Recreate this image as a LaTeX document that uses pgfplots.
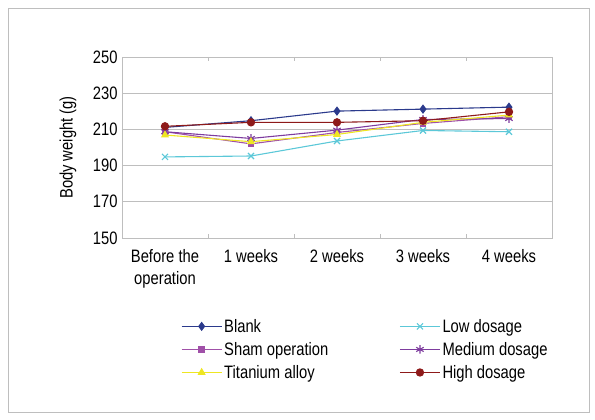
\documentclass[border=0pt]{standalone}
\usepackage{pgfplots}
\pgfplotsset{compat=1.18}
\usepackage{fontspec}
\setmainfont{Liberation Sans}[FakeStretch=0.82]

\definecolor{cblank}{HTML}{2B3A8C}
\definecolor{csham}{HTML}{A050A8}
\definecolor{ctitan}{HTML}{EEE622}
\definecolor{clow}{HTML}{5CC8D8}
\definecolor{cmed}{HTML}{7E3C9E}
\definecolor{chigh}{HTML}{8E1A1A}
\definecolor{cgrid}{HTML}{BEBEBE}

\begin{document}
\begin{tikzpicture}
  \path (0pt,0pt) rectangle (595pt,420pt);
  \draw[cgrid, line width=0.8pt] (8pt,8pt) rectangle (589pt,412pt);
  \begin{axis}[
      at={(122pt,182pt)}, anchor=south west,
      scale only axis, width=430pt, height=181pt,
      xmin=-0.5, xmax=4.5,
      ymin=150, ymax=250,
      ytick={150,170,190,210,230,250},
      xtick={0,1,2,3,4},
      xticklabels={{Before the\\operation},1 weeks,2 weeks,3 weeks,4 weeks},
      xticklabel style={align=center, text depth=0pt, yshift=-8pt},
      yticklabel style={xshift=-1pt},
      major x tick style={draw=none},
      minor xtick={0.5,1.5,2.5,3.5},
      minor tick length=4pt,
      minor x tick style={cgrid},
      y tick style={draw=none},
      ymajorgrids=true,
      grid style={cgrid, line width=0.8pt},
      axis line style={cgrid, line width=0.8pt},
      /pgf/number format/assume math mode=true,
      tick label style={font=\fontsize{18}{21.5}\selectfont},
      label style={font=\fontsize{18}{21.5}\selectfont},
      ylabel={Body weight (g)},
      ylabel style={at={(axis description cs:-0.1256,0.5)}, anchor=center},
      legend columns=2,
      legend style={at={(axis description cs:0.13,-0.425)}, anchor=north west,
        draw=none, fill=none, font=\fontsize{18}{21}\selectfont,
        row sep=4.5pt,
        /tikz/every even column/.append style={column sep=69pt}},
      legend cell align=left,
      legend image code/.code={\draw[mark repeat=2,mark phase=2]
        plot coordinates {(0pt,0pt)(20pt,0pt)(40pt,0pt)};},
      every axis plot/.append style={line width=1.1pt},
      mark size=3pt,
    ]
    \addplot[color=cblank, mark=diamond*, mark size=3.8pt, mark options={fill=cblank}]
      coordinates {(0,211.1)(1,214.8)(2,220.1)(3,221.2)(4,222.3)};
    \addlegendentry{Blank}
    \addplot[color=clow, mark=x, mark size=4.3pt]
      coordinates {(0,194.8)(1,195.3)(2,203.6)(3,209.4)(4,208.7)};
    \addlegendentry{Low dosage}
    \addplot[color=csham, mark=square*, mark size=2.8pt, mark options={fill=csham}]
      coordinates {(0,208.7)(1,202.0)(2,208.3)(3,213.3)(4,217.0)};
    \addlegendentry{Sham operation}
    \addplot[color=cmed, mark=asterisk, mark size=4.3pt]
      coordinates {(0,208.7)(1,205.0)(2,209.6)(3,215.5)(4,216.0)};
    \addlegendentry{Medium dosage}
    \addplot[color=ctitan, mark=triangle*, mark size=3.6pt, mark options={fill=ctitan}]
      coordinates {(0,206.9)(1,203.2)(2,207.2)(3,213.9)(4,217.9)};
    \addlegendentry{Titanium alloy}
    \addplot[color=chigh, mark=*, mark size=3.6pt, mark options={fill=chigh}]
      coordinates {(0,211.7)(1,213.9)(2,213.9)(3,214.8)(4,219.7)};
    \addlegendentry{High dosage}
  \end{axis}
\end{tikzpicture}
\end{document}
